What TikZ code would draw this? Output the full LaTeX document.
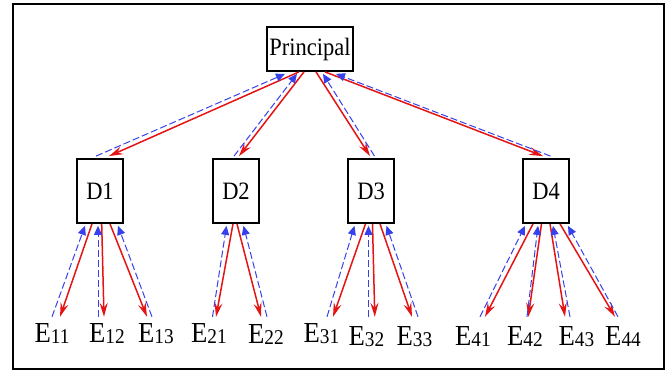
\documentclass[tikz,border=0pt]{standalone}
\usepackage{fontspec}
\setmainfont{Liberation Serif}
\usetikzlibrary{arrows.meta}
\definecolor{ared}{RGB}{228,20,20}
\definecolor{ablue}{RGB}{55,65,235}
\newcommand\conn[7]{%
  \draw[redarr] ([xshift=#3pt]#1.south) -- ([xshift=#4pt,yshift=#7pt]#2.north);
  \draw[bluearr] ([xshift=#5pt,yshift=#7pt]#2.north) -- ([xshift=#6pt,yshift=-2pt]#1.south);}
\newcommand\elabtext[1]{\scalebox{0.92}[1]{\fontsize{29}{29}\selectfont E\raisebox{-1pt}{\fontsize{21}{21}\selectfont #1}}}
\begin{document}
\begin{tikzpicture}[x=1pt,y=-1pt,
  pbox/.style={draw,line width=1.8pt,fill=white,minimum width=86pt,minimum height=44pt,inner sep=0pt,font=\fontsize{25}{25}\selectfont},
  dbox/.style={draw,line width=1.8pt,fill=white,minimum width=46pt,minimum height=64pt,inner sep=0pt,font=\fontsize{25}{25}\selectfont},
  elab/.style={inner sep=0pt,text height=20pt,text depth=3pt,anchor=base},
  redarr/.style={draw=ared,line width=1.5pt,-{Stealth[length=14pt,width=8pt,inset=5pt]}},
  bluearr/.style={draw=ablue,line width=1pt,dash pattern=on 7pt off 3pt,-{Triangle[length=9pt,width=8pt]}}]
\useasboundingbox (0,0) rectangle (668,371);
\draw[line width=2.2pt] (13,4) rectangle (664,369);
\node[pbox] (P) at (310,49) {\scalebox{0.9}[1]{Principal}};
\node[dbox] (D1) at (100,191) {\scalebox{0.9}[1]{D1}};
\node[dbox] (D2) at (236,191) {\scalebox{0.9}[1]{D2}};
\node[dbox] (D3) at (371,191) {\scalebox{0.9}[1]{D3}};
\node[dbox] (D4) at (546,191) {\scalebox{0.9}[1]{D4}};
\node[elab] (E11) at (52,342) {\elabtext{11}};
\node[elab] (E12) at (107,342) {\elabtext{12}};
\node[elab] (E13) at (156,342) {\elabtext{13}};
\node[elab] (E21) at (209,342) {\elabtext{21}};
\node[elab] (E22) at (266,343) {\elabtext{22}};
\node[elab] (E31) at (321.5,342) {\elabtext{31}};
\node[elab] (E32) at (366.5,345) {\elabtext{32}};
\node[elab] (E33) at (414.5,345) {\elabtext{33}};
\node[elab] (E41) at (473,345) {\elabtext{41}};
\node[elab] (E42) at (525,345) {\elabtext{42}};
\node[elab] (E43) at (576.5,345) {\elabtext{43}};
\node[elab] (E44) at (623,345) {\elabtext{44}};
\conn{P}{D1}{-11}{9}{-4}{-25}{2}
\conn{P}{D2}{-6}{3}{-2}{-13}{2}
\conn{P}{D3}{6}{-1}{3.5}{13}{2}
\conn{P}{D4}{15}{-3}{4.5}{26}{2}
\conn{D1}{E11}{-8}{8}{0}{-15}{5}
\conn{D1}{E12}{1.7}{-3}{-9}{-2}{5}
\conn{D1}{E13}{10}{-9}{-4}{18}{5}
\conn{D2}{E21}{-3}{7}{3.5}{-9.5}{5}
\conn{D2}{E22}{1}{-5}{1}{7.5}{6}
\conn{D3}{E31}{-5.5}{11.5}{5.5}{-16.5}{5}
\conn{D3}{E32}{1.5}{8.3}{2}{-2.5}{8}
\conn{D3}{E33}{9}{-2.5}{3.5}{15.5}{8}
\conn{D4}{E41}{-13}{12}{7}{-21}{8}
\conn{D4}{E42}{-4.5}{3.3}{2}{-8}{8}
\conn{D4}{E43}{4}{-11.5}{-6.5}{7}{8}
\conn{D4}{E44}{14}{-8}{-5}{22}{8}
\end{tikzpicture}
\end{document}
